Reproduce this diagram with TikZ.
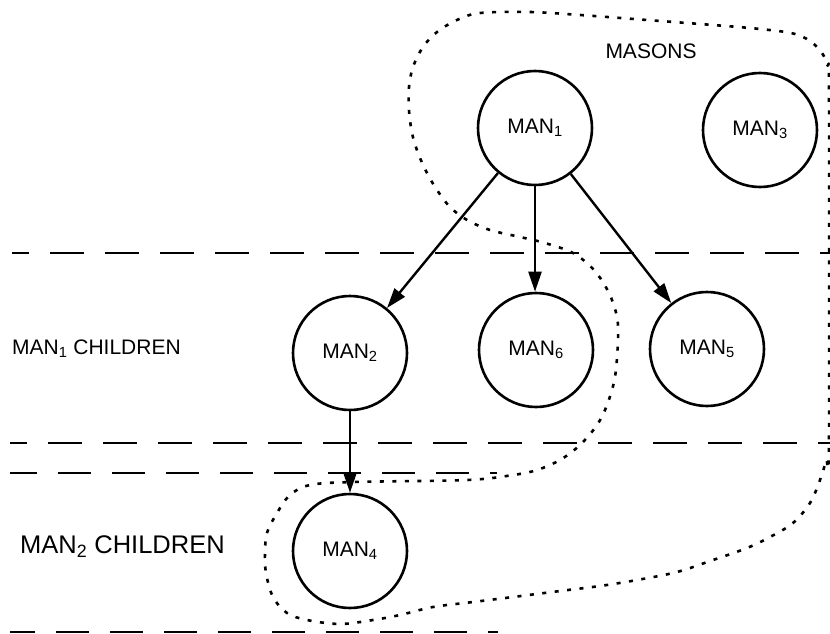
\documentclass[tikz,border=0pt]{standalone}
\usepackage{fontspec}
\setmainfont{Liberation Sans}
\usetikzlibrary{arrows.meta}
\begin{document}
\begin{tikzpicture}[x=1pt,y=-1pt,font=\fontsize{21}{25}\selectfont,line join=round]
\tikzset{
  man/.style={circle,draw,line width=2.6pt,minimum size=114pt,inner sep=0pt},
  link/.style={line width=2.4pt,-{Triangle[length=20pt,width=13pt]}},
  sepwide/.style={line width=2.4pt,dash pattern=on 34pt off 21pt},
  sepshort/.style={line width=2.4pt,dash pattern=on 33pt off 21pt},
  masonline/.style={line width=2.6pt,dash pattern=on 4pt off 8.5pt},
  lbl/.style={inner sep=0pt}
}
\useasboundingbox (0,0) rectangle (830,634);

% separators
\coordinate (s1a) at (12,253); \coordinate (s1b) at (830,253);
\coordinate (s2a) at (10,443); \coordinate (s2b) at (830,443);
\coordinate (s3a) at (10,473); \coordinate (s3b) at (497,473);
\coordinate (s4a) at (10,632); \coordinate (s4b) at (498,632);
\draw[sepwide,dash phase=17pt] (s1a) -- (s1b);
\draw[sepwide,dash phase=17pt] (s2a) -- (s2b);
\draw[sepshort,dash phase=6pt] (s3a) -- (s3b);
\draw[sepshort,dash phase=8pt] (s4a) -- (s4b);

% nodes
\node[man] (m1) at (535,128) {MAN\textsubscript{1}};
\node[man] (m3) at (760,130) {MAN\textsubscript{3}};
\node[man] (m2) at (350,353) {MAN\textsubscript{2}};
\node[man] (m6) at (536,350) {MAN\textsubscript{6}};
\node[man] (m5) at (707,349) {MAN\textsubscript{5}};
\node[man] (m4) at (350,551) {MAN\textsubscript{4}};

% labels
\node[lbl] (masons) at (651,51) {MASONS};
\node[lbl,anchor=west] (c1) at (12,349) {MAN\textsubscript{1} CHILDREN};
\node[lbl,anchor=west,font=\fontsize{25.5}{30}\selectfont] (c2) at (20,547) {MAN\textsubscript{2} CHILDREN};

% arrows
\draw[link] (m1) -- (m2);
\draw[link] (m1.south) -- (m1.south |- m6.north);
\draw[link] (m1) -- (m5);
\draw[link] (m2) -- (m4);

% masons outline
\draw[masonline] plot[smooth cycle,tension=0.55] coordinates {
 (480,13) (530,12) (580,15) (647,20) (713,25) (760,29) (795,34) (815,45) (827,64)
 (829,100) (829,440) (826,460) (820,480) (810,503) (793,523) (770,537) (747,548)
 (713,560) (677,572) (637,580) (600,586) (560,591) (513,597) (473,602) (433,607)
 (400,615) (373,620) (340,624) (307,620) (287,613) (273,597) (266,573) (265,553)
 (267,533) (277,513) (290,495) (310,485) (353,482) (467,480) (513,475) (537,470)
 (560,460) (580,445) (597,425) (607,405) (615,377) (618,340) (617,317) (609,293)
 (594,270) (573,253) (545,243) (520,237) (490,230) (467,220) (450,207) (437,190)
 (427,173) (418,153) (412,133) (409,110) (409,87) (413,67) (423,47) (437,32) (457,20)
};
\end{tikzpicture}
\end{document}
